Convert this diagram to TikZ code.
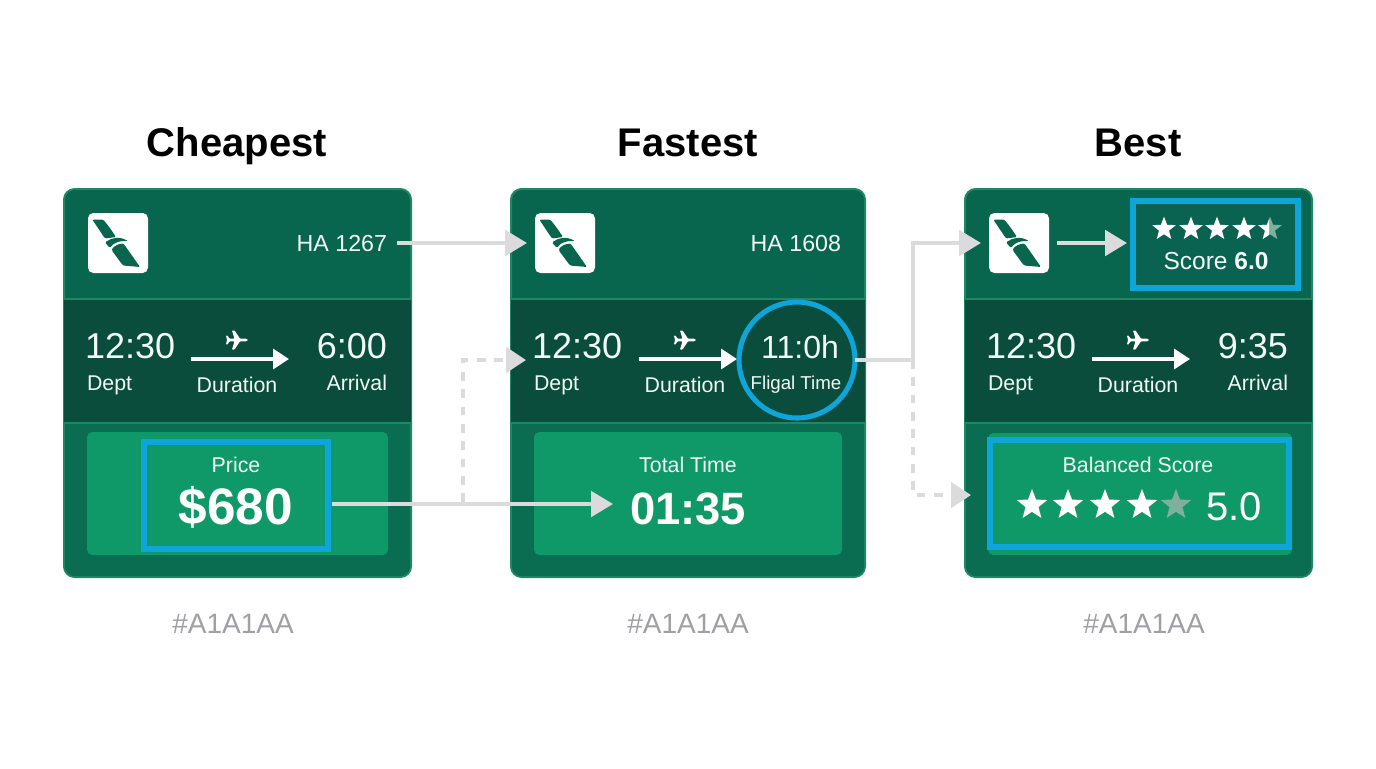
\documentclass[tikz,border=0pt]{standalone}
\usepackage{fontspec}
\setmainfont{Liberation Sans}
\usetikzlibrary{arrows.meta,shapes.geometric,calc}
\definecolor{cardtop}{HTML}{08664E}
\definecolor{cardmid}{HTML}{0A4D3C}
\definecolor{cardlow}{HTML}{0A6C50}
\definecolor{cardline}{HTML}{1E8763}
\definecolor{panelg}{HTML}{0F9868}
\definecolor{hilite}{HTML}{0EA5DB}
\definecolor{conn}{HTML}{DBDBDE}
\definecolor{captg}{HTML}{9F9FA4}
\definecolor{ink}{HTML}{F1FAF6}
\definecolor{dimstar}{HTML}{7FB09E}
\definecolor{scorebg}{HTML}{0A6350}
\tikzset{
  txt/.style={inner sep=0,outer sep=0,text=ink},
  titletxt/.style={inner sep=0,outer sep=0,text=black,anchor=base,font=\fontsize{30}{30}\selectfont\bfseries},
  capt/.style={inner sep=0,outer sep=0,text=captg,anchor=base,font=\fontsize{21}{21}\selectfont},
  timetxt/.style={txt,font=\fontsize{27}{27}\selectfont},
  labeltxt/.style={txt,font=\fontsize{16}{16}\selectfont},
  flighttxt/.style={txt,font=\fontsize{17}{17}\selectfont},
  headtxt/.style={txt,font=\fontsize{17.4}{17.4}\selectfont},
  bigtxt/.style={txt,text=white,font=\fontsize{38.5}{38.5}\selectfont\bfseries},
  innerarrow/.style={draw=white,line width=2.5pt,-{Triangle[length=12pt,width=15pt]}},
  solidconn/.style={draw=conn,line width=3.2pt,-{Triangle[length=16.5pt,width=19pt]}},
  dashconn/.style={draw=conn,line width=3pt,dash pattern=on 6.5pt off 6.5pt,-{Triangle[length=15pt,width=19pt]}},
  bigstar/.style={star,star points=5,star point ratio=2.35,fill=white,inner sep=0,minimum size=24pt},
  smallstar/.style={star,star points=5,star point ratio=2.35,fill=white,inner sep=0,minimum size=18.5pt},
}
% name, style, x1, y1, x2, y2 (pixels of the reference)
\newcommand{\pxbox}[6]{%
  \pgfmathsetlengthmacro{\bw}{(#5-#3)*0.75pt}%
  \pgfmathsetlengthmacro{\bh}{(#6-#4)*0.75pt}%
  \node[#2,inner sep=0,outer sep=0,minimum width=\bw,minimum height=\bh] (#1) at ({(#3+#5)/2},{(#4+#6)/2}) {};}
% name, x, y of the white tile
\newcommand{\planelogo}[3]{%
  \pxbox{#1}{fill=white,rounded corners=4pt}{#2}{#3}{#2+60}{#3+60}
  \begin{scope}[shift={(#2,#3)}]
    \fill[cardtop,rounded corners=1pt] (4.3,6.5) -- (15,6.5) .. controls (20,12) and (24,18) .. (28,24) -- (17,25.5) -- cycle;
    \fill[cardtop,rounded corners=1pt] (17,29.5) .. controls (23,25) and (32,23) .. (40,28.3) .. controls (33,27.5) and (26,29) .. (22,35) -- cycle;
    \fill[cardtop,rounded corners=1pt] (23.5,37) .. controls (26,33) and (30,31) .. (35.5,30.5) -- (52,54) -- (35,52.5) -- cycle;
  \end{scope}}
% suffix, card x1, x2
\newcommand{\cardbase}[3]{%
  \pxbox{card#1}{fill=cardtop,draw=cardline,line width=1.5pt,rounded corners=8pt}{#2}{189}{#3}{577}
  \begin{scope}
    \clip[rounded corners=8pt] (#2+1,190) rectangle (#3-1,576);
    \fill[cardlow] (#2,423) rectangle (#3,577);
  \end{scope}
  \pxbox{band#1}{fill=cardmid}{#2+1}{299}{#3-1}{423}
  \draw[cardline,line width=1.5pt] (band#1.north west) -- (band#1.north east);
  \draw[cardline,line width=1.5pt] (band#1.south west) -- (band#1.south east);}
% suffix, arrow x, plane x
\newcommand{\routeparts}[3]{%
  \coordinate (as#1) at (#2,359);
  \coordinate (ae#1) at (#2+98,359);
  \draw[innerarrow] (as#1) -- (ae#1);
  \begin{scope}[shift={(#3,340)}]
    \fill[white,rounded corners=0.5pt] (11,0) -- (9.5,-1.3) -- (3,-1.3) -- (-2.5,-9.5) -- (-5,-9.5) -- (-2.5,-1.3) -- (-7.5,-1.3) -- (-9.5,-4.5) -- (-11,-4.5) -- (-10,0)
      -- (-11,4.5) -- (-9.5,4.5) -- (-7.5,1.3) -- (-2.5,1.3) -- (-5,9.5) -- (-2.5,9.5) -- (3,1.3) -- (9.5,1.3) -- cycle;
  \end{scope}
  \node[labeltxt,anchor=base] (dur#1) at (#3,392) {Duration};}
\begin{document}
\begin{tikzpicture}[x=0.75pt,y=-0.75pt]
\useasboundingbox (0,0) rectangle (1376,768);
\fill[white] (0,0) rectangle (1376,768);
% titles
\node[titletxt] (t1) at (237,156) {Cheapest};
\node[titletxt] (t2) at (688,156) {Fastest};
\node[titletxt] (t3) at (1138,156) {Best};
% cards
\cardbase{A}{64}{411}
\cardbase{B}{511}{865}
\cardbase{C}{965}{1312}
% card A
\planelogo{logoA}{88}{213}
\node[headtxt,anchor=base east] (flA) at (387,251) {HA 1267};
\node[timetxt,anchor=base west] (depA) at (85,358) {12:30};
\node[labeltxt,anchor=base west] (deplA) at (87,390) {Dept};
\routeparts{A}{191}{237}
\node[timetxt,anchor=base east] (arrA) at (387,358) {6:00};
\node[labeltxt,anchor=base east] (arrlA) at (387,390) {Arrival};
\pxbox{panelA}{fill=panelg,rounded corners=4pt}{87}{432}{388}{555}
\pxbox{priceBox}{draw=hilite,line width=3.8pt}{144}{442}{328}{549}
\node[labeltxt,anchor=base] (priceL) at (236,472) {Price};
\node[bigtxt,anchor=base] (priceV) at (236,524) {\$680};
% card B
\planelogo{logoB}{535}{213}
\node[headtxt,anchor=base east] (flB) at (841,251) {HA 1608};
\node[timetxt,anchor=base west] (depB) at (532,358) {12:30};
\node[labeltxt,anchor=base west] (deplB) at (534,390) {Dept};
\routeparts{B}{639}{685}
\pxbox{panelB}{fill=panelg,rounded corners=4pt}{534}{432}{842}{555}
\node[labeltxt,anchor=base] (totalL) at (688,472) {Total Time};
\node[bigtxt,anchor=base,font=\fontsize{34}{34}\selectfont\bfseries] (totalV) at (688,524) {01:35};
\node[circle,draw=hilite,line width=3.8pt,minimum size=87pt,inner sep=0,outer sep=0] (ring) at (797,360) {};
\node[txt,anchor=base,font=\fontsize{24}{24}\selectfont] (ringV) at (800,358) {11:0h};
\node[txt,anchor=base,font=\fontsize{14}{14}\selectfont] (ringL) at (796,389) {Fligal Time};
% card C
\planelogo{logoC}{989}{213}
\pxbox{scoreBox}{fill=scorebg,draw=hilite,line width=3.8pt}{1133}{201}{1298}{288}
\foreach \n/\sx in {1/1164,2/1191,3/1217,4/1244}{\node[smallstar] (ss\n) at (\sx,229) {};}
\node[smallstar,fill=dimstar] (ss5) at (1270,229) {};
\begin{scope}
  \clip (1255,210) rectangle (1269,250);
  \node[smallstar] (ss5w) at (1270,229) {};
\end{scope}
\node[txt,anchor=base,font=\fontsize{18.4}{18.4}\selectfont] (scoreT) at (1216,269) {Score \textbf{6.0}};
\node[timetxt,anchor=base west] (depC) at (986,358) {12:30};
\node[labeltxt,anchor=base west] (deplC) at (988,390) {Dept};
\routeparts{C}{1092}{1138}
\node[timetxt,anchor=base east] (arrC) at (1288,358) {9:35};
\node[labeltxt,anchor=base east] (arrlC) at (1288,390) {Arrival};
\pxbox{panelC}{fill=panelg,rounded corners=4pt}{988}{433}{1292}{555}
\pxbox{balBox}{draw=hilite,line width=4pt}{990}{440}{1289}{547}
\node[labeltxt,anchor=base] (balL) at (1138,472) {Balanced Score};
\foreach \n/\sx in {1/1032,2/1068,3/1105,4/1142}{\node[bigstar] (bs\n) at (\sx,505) {};}
\node[bigstar,fill=dimstar] (bs5) at (1176,505) {};
\node[txt,text=white,anchor=base west,font=\fontsize{30}{30}\selectfont] (balV) at (1206,520) {5.0};
% captions
\node[capt] (c1) at (233,633) {\#A1A1AA};
\node[capt] (c2) at (688,633) {\#A1A1AA};
\node[capt] (c3) at (1144,633) {\#A1A1AA};
% connectors
\coordinate (priceOut) at (332,504);
\coordinate (totalIn) at (613,504);
\coordinate (dashStart) at (463,502);
\coordinate (depBIn) at (526,360);
\coordinate (fork) at (913,360);
\coordinate (balIn) at (971,495);
\draw[solidconn,shorten <=7.5pt,shorten >=6pt] (flA.east |- logoB.west) -- (logoB.west);
\draw[dashconn] (dashStart) |- (depBIn);
\draw[solidconn] (priceOut) -- (totalIn);
\draw[solidconn,shorten >=6pt] (ring.east) -- (fork) |- (logoC.west);
\draw[dashconn] (fork) |- (balIn);
\draw[solidconn,shorten <=6pt,shorten >=4.5pt] (logoC.east) -- (logoC.east -| scoreBox.west);
\end{tikzpicture}
\end{document}
